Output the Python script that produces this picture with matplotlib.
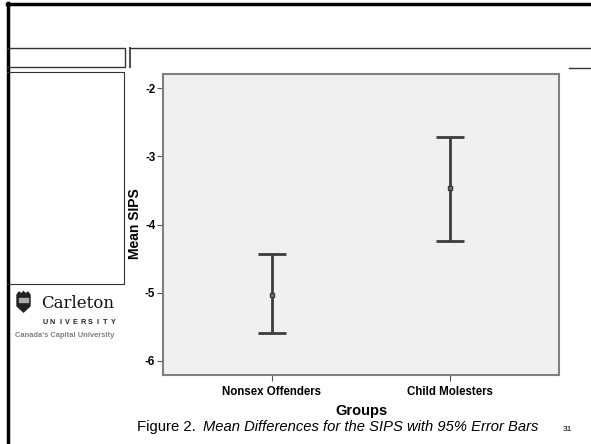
import matplotlib
matplotlib.use("Agg")
import matplotlib.pyplot as plt
from matplotlib.patches import Rectangle, Polygon

plt.rcParams['font.family'] = ['Liberation Sans', 'DejaVu Sans']
plt.rcParams['axes.unicode_minus'] = False

groups = ['Nonsex Offenders', 'Child Molesters']
means = [-5.03, -3.47]
ci_low = [-5.60, -4.24]
ci_high = [-4.44, -2.72]
yticks = [-2, -3, -4, -5, -6]

W, H = 591, 444
fig = plt.figure(figsize=(W / 100, H / 100), dpi=100)

# slide decorations drawn in pixel space
bg = fig.add_axes([0, 0, 1, 1])
bg.set_xlim(0, W); bg.set_ylim(H, 0); bg.axis('off')
bg.plot([7, W], [4, 4], color='black', lw=2.5)
bg.plot([7.5, 7.5], [3, H], color='black', lw=2.5)
bg.plot([7, 125, 125, 7], [48, 48, 67, 67], color='#333333', lw=1)
bg.plot([130, 130], [48, 67], color='#555555', lw=1.5)
bg.plot([130, W], [48, 48], color='#333333', lw=1)
bg.plot([7, 124, 124, 7], [72, 72, 284, 284], color='#333333', lw=0.8)
bg.plot([569, W], [68, 68], color='#333333', lw=1)

# logo
bg.add_patch(Polygon([[17, 295], [30, 295], [30, 306], [23.5, 312], [17, 306]],
                     closed=True, color='#222222'))
bg.add_patch(Polygon([[17, 295], [19, 292], [21.5, 294], [23.5, 291.5],
                      [25.5, 294], [28, 292], [30, 295]], closed=True, color='#222222'))
bg.add_patch(Rectangle((19, 298), 9, 4, color='#aaaaaa'))
bg.text(41, 303, 'Carleton', family='DejaVu Serif', fontsize=12,
        va='center', ha='left', color='#111111')
word = 'UNIVERSITY'
for i, ch in enumerate(word):
    bg.text(45 + i * 68 / (len(word) - 1), 322, ch, fontsize=5.2,
            fontweight='bold', ha='center', va='center', color='#222222')
bg.text(15, 335, "Canada's Capital University", fontsize=5.4, fontweight='bold',
        ha='left', va='center', color='#808080')

# caption
bg.text(137, 427, 'Figure 2.', fontsize=10.7, ha='left', va='center')
bg.text(203, 427, 'Mean Differences for the SIPS with 95% Error Bars',
        fontsize=10.6, style='italic', ha='left', va='center')
bg.text(567, 429, '31', fontsize=6, ha='center', va='center')

# chart
ax = fig.add_axes([163 / W, (H - 375) / H, 396 / W, 301 / H])
ax.set_facecolor('#f0f0f0')
xs = [1, 2]
yerr = [[m - lo for m, lo in zip(means, ci_low)],
        [hi - m for m, hi in zip(means, ci_high)]]
ax.errorbar(xs, means, yerr=yerr, fmt='s', color='#3c3c3c', ecolor='#3c3c3c',
            elinewidth=2, capsize=10, capthick=2, markersize=3.5,
            markerfacecolor='#777777', markeredgecolor='#3c3c3c')
ax.set_xlim(0.39, 2.61)
ax.set_ylim(-6.21, -1.79)
ax.set_yticks(yticks)
ax.set_yticklabels([str(v) for v in yticks])
ax.set_xticks(xs)
ax.set_xticklabels(groups)
for s in ax.spines.values():
    s.set_color('#808080')
    s.set_linewidth(1.5)
ax.tick_params(axis='both', length=4, width=0.8, color='#555555', labelsize=8.3)
ax.tick_params(axis='x', pad=4)
ax.tick_params(axis='y', pad=1.5)
for lab in ax.get_xticklabels() + ax.get_yticklabels():
    lab.set_fontweight('bold')
ax.set_ylabel('Mean SIPS', fontsize=10, fontweight='bold', va='center', ha='center')
ax.yaxis.set_label_coords((135 - 163) / 396, (375 - 223.5) / 301)
ax.set_xlabel('Groups', fontsize=10.5, fontweight='bold', va='center')
ax.xaxis.set_label_coords(0.5, (375 - 411) / 301)

fig.savefig('out.png', dpi=100)
